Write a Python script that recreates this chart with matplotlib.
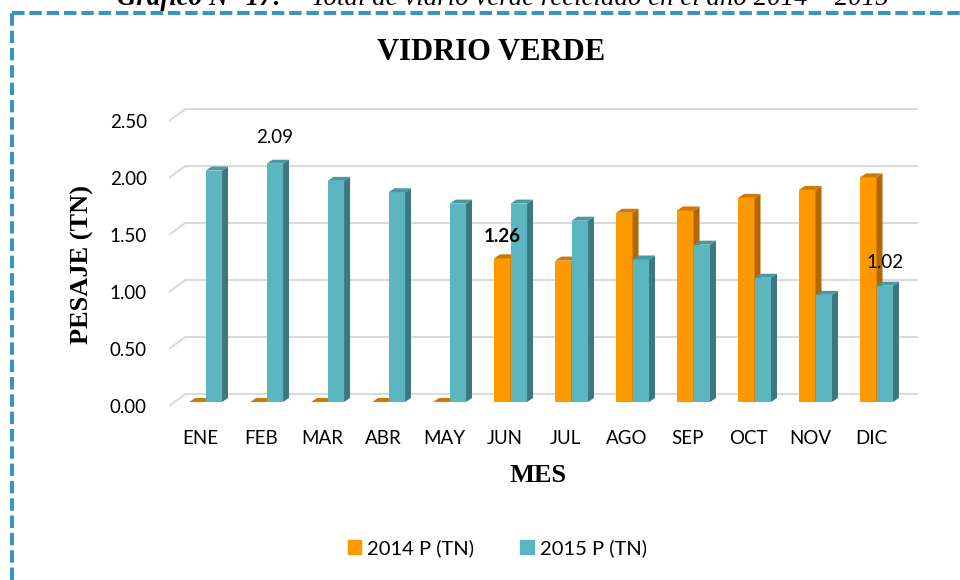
import matplotlib
matplotlib.use("Agg")
import matplotlib.pyplot as plt
import matplotlib.transforms as mtransforms
from matplotlib.patches import Polygon, Rectangle, Patch
from matplotlib.lines import Line2D

# datos
meses = ["ENE", "FEB", "MAR", "ABR", "MAY", "JUN", "JUL", "AGO", "SEP", "OCT", "NOV", "DIC"]
p2014 = [0, 0, 0, 0, 0, 1.26, 1.24, 1.66, 1.68, 1.79, 1.86, 1.97]
p2015 = [2.03, 2.09, 1.94, 1.84, 1.74, 1.74, 1.59, 1.25, 1.38, 1.09, 0.94, 1.02]
series = ["2014 P (TN)", "2015 P (TN)"]
y_ticks = [0.0, 0.5, 1.0, 1.5, 2.0, 2.5]
# etiquetas de datos: (serie, mes, negrita, desplazamiento en pt)
etiquetas = [(1, 1, False, 19), (0, 5, True, 16), (1, 11, False, 17)]

plt.rcParams['font.family'] = ['Lato', 'DejaVu Sans']
SERIF = 'Liberation Serif'

colores = [("#FF9900", "#B36700", "#CC7A00"),   # frente, lado, tapa
           ("#5BB6C0", "#3B7880", "#4A98A2")]

W, H = 960, 580
fig = plt.figure(figsize=(W / 100, H / 100), dpi=100)

# ejes: planos de las barras
x0, x1 = -0.60, 11.68
y0, y1 = -0.06, 2.62
ax = fig.add_axes([169 / W, 1 - 408.8 / H, (918 - 169) / W, (408.8 - 103.3) / H])
ax.set_xlim(x0, x1)
ax.set_ylim(y0, y1)
for s in ax.spines.values():
    s.set_visible(False)

# pared del fondo (efecto 3D)
wall_dx = 0.262
front_dy, back_dy = -0.035, 0.068
for v in y_ticks:
    ax.plot([x0 + wall_dx, x1], [v + back_dy, v + back_dy], color="#D9D9D9", lw=1.4, zorder=1,
            solid_capstyle='butt')
    ax.plot([x0, x0 + wall_dx], [v + front_dy, v + back_dy], color="#D9D9D9", lw=1.4, zorder=1)

# barras 3D
bw = 0.27
ddx, ddy = 0.098, 0.035


def barra3d(xa, h, cols, z):
    fr, la, ta = cols
    if h > 0:
        ax.add_patch(Rectangle((xa, 0), bw, h, fc=fr, ec='none', zorder=z))
        ax.add_patch(Polygon([(xa + bw, 0), (xa + bw + ddx, ddy), (xa + bw + ddx, h + ddy), (xa + bw, h)],
                             closed=True, fc=la, ec='none', zorder=z))
    ax.add_patch(Polygon([(xa, h), (xa + bw, h), (xa + bw + ddx, h + ddy), (xa + ddx, h + ddy)],
                         closed=True, fc=ta, ec='none', zorder=z))


datos = [p2014, p2015]
for i in range(len(meses)):
    barra3d(i - bw, p2014[i], colores[0], 2 + i * 0.01)
    barra3d(i, p2015[i], colores[1], 2.005 + i * 0.01)

for s, m, negrita, off in etiquetas:
    v = datos[s][m]
    xc = m - bw / 2 if s == 0 else m + bw / 2
    ax.annotate(f"{v:.2f}", xy=(xc, v), xytext=(0, off), textcoords='offset points',
                ha='center', va='center', fontsize=13.5,
                fontweight='bold' if negrita else 'normal', zorder=5)

# ticks
ax.set_yticks(y_ticks)
ax.set_yticklabels([f"{v:.2f}" for v in y_ticks], fontsize=13.5)
ax.set_xticks(range(len(meses)))
ax.set_xticklabels(meses, fontsize=13.5)
ax.tick_params(axis='both', length=0)
ax.tick_params(axis='y', pad=16)
ax.tick_params(axis='x', pad=15)
off_y = mtransforms.ScaledTranslation(0, -4 / 100, fig.dpi_scale_trans)
for lab in ax.get_yticklabels():
    lab.set_transform(lab.get_transform() + off_y)
off_x = mtransforms.ScaledTranslation(-5.7 / 100, 0, fig.dpi_scale_trans)
for lab in ax.get_xticklabels():
    lab.set_transform(lab.get_transform() + off_x)

# textos
fig.text(491 / W, 1 - 53 / H, "VIDRIO VERDE", family=SERIF, fontweight='bold', fontsize=22,
         ha='center', va='center')
fig.text(82.5 / W, 1 - 264 / H, "PESAJE (TN)", family=SERIF, fontweight='bold', fontsize=19,
         rotation=90, ha='center', va='center')
fig.text(538 / W, 1 - 476 / H, "MES", family=SERIF, fontweight='bold', fontsize=19,
         ha='center', va='center')
fig.text(117 / W, 1 - 5 / H, "Gráfico N° 17:", family=SERIF, fontweight='bold', style='italic',
         fontsize=19.4, ha='left', va='baseline')
fig.text(311 / W, 1 - 5 / H, "Total de vidrio verde reciclado en el año 2014 – 2015", family=SERIF,
         style='italic', fontsize=19.4, ha='left', va='baseline')

# leyenda
handles = [Patch(color=colores[0][0]), Patch(color=colores[1][0])]
fig.legend(handles, series, loc='center', bbox_to_anchor=(0.518, 0.055), ncol=2, frameon=False,
           fontsize=14.5, handlelength=0.65, handleheight=0.75, handletextpad=0.3, columnspacing=2.3)

# borde punteado
estilo = dict(color="#3A96C0", lw=2.9, linestyle=(0, (3.1, 1.2)), transform=fig.transFigure)
fig.add_artist(Line2D([12 / W, 12 / W], [0, 1 - 12.7 / H], **estilo))
fig.add_artist(Line2D([12 / W, 1], [1 - 12.7 / H, 1 - 12.7 / H], **estilo))

fig.savefig("out.png", dpi=100)
